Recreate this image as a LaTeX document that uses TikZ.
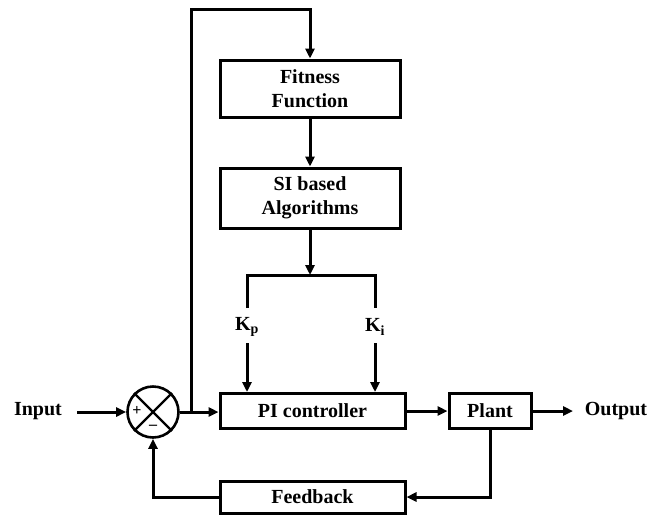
\documentclass[tikz,border=0pt]{standalone}
\usepackage{fontspec}
\setmainfont{Liberation Serif}
\usetikzlibrary{arrows.meta}
\begin{document}
\begin{tikzpicture}[x=1pt,y=-1pt,
  line width=3pt,
  font=\fontsize{20}{24}\selectfont\bfseries,
  blk/.style={draw, rectangle, inner sep=0pt, align=center},
  arr/.style={-{Triangle[length=10pt,width=9pt]}},
  lbl/.style={inner sep=0pt}]
\useasboundingbox (0,0) rectangle (654,515);
% blocks
\node[blk, minimum width=180pt, minimum height=57pt] (fit) at (310,88.5) {Fitness\\Function};
\node[blk, minimum width=180pt, minimum height=60pt] (si) at (310,198) {SI based\\Algorithms};
\node[blk, minimum width=185pt, minimum height=35pt] (pi) at (312.5,411) {PI controller};
\node[blk, minimum width=82pt, minimum height=35pt] (plant) at (490,411) {Plant};
\node[blk, minimum width=185pt, minimum height=32pt] (fb) at (312.5,497) {Feedback};
% summing junction
\node[draw, circle, minimum size=51pt, inner sep=0pt, line width=2.6pt] (sum) at (153,412) {};
\draw[line width=2.4pt] (sum.north west) -- (sum.south east) (sum.north east) -- (sum.south west);
\node[lbl, font=\fontsize{16}{16}\selectfont\bfseries] at (137,411) {+};
\node[lbl, font=\fontsize{16}{16}\selectfont\bfseries] at (153,427) {--};
% labels
\node[lbl] (in) at (38,411) {Input};
\node[lbl] (out) at (616,411) {Output};
\node[lbl] (kp) at (247,327) {K\textsubscript{p}};
\node[lbl] (ki) at (375,327) {K\textsubscript{i}};
\coordinate (inend) at (77,412);
\coordinate (outend) at (573,411);
% branch point
\coordinate (tap) at (191,412);
\coordinate (br) at (310,275);
% signal path
\draw[arr] (inend) -- (sum.west);
\draw[arr] (sum.east) -- (pi.west |- sum.east);
\draw[arr] (plant.east) -- (outend);
\draw[arr] (pi.east) -- (plant.west);
% loop to the fitness function
\draw[arr] (tap) -- (191,9) -- (310,9) -- (fit.north);
\draw[arr] (fit.south) -- (si.north);
\draw[arr] (si.south) -- (br);
% gain lines
\draw (247,308) -- (247,275) -- (375,275) -- (375,308);
\draw[arr] (247,343) -- (pi.north -| 247,0);
\draw[arr] (375,343) -- (pi.north -| 375,0);
% feedback path
\draw[arr] (plant.south) |- (fb.east);
\draw[arr] (fb.west) -| (sum.south);
\end{tikzpicture}
\end{document}
